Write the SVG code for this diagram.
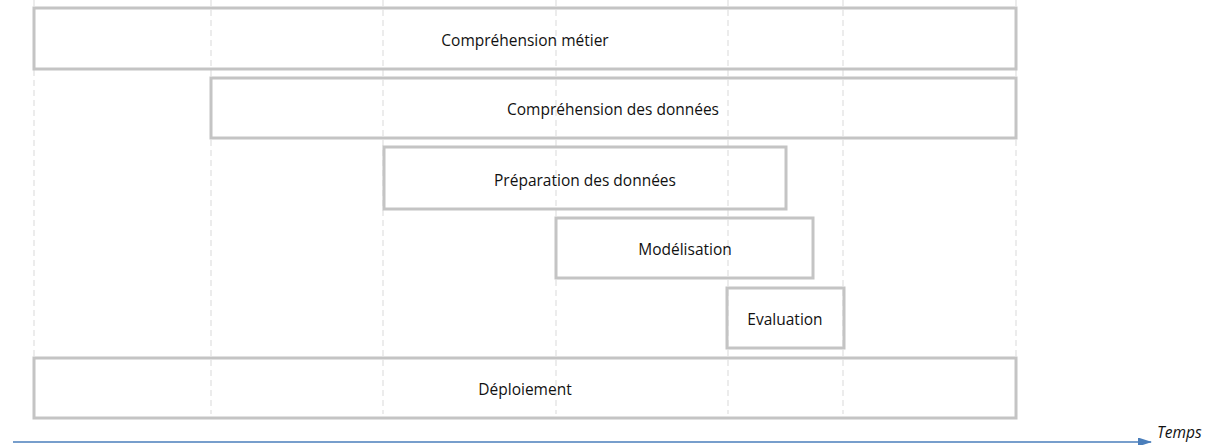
<svg xmlns="http://www.w3.org/2000/svg" width="1209" height="445" viewBox="0 0 1209 445">
<style>
.grid{stroke:#d9d9d9;stroke-width:1;stroke-dasharray:6 4;fill:none}
.box{fill:none;stroke:#c4c4c4;stroke-width:3}
.lbl{font-family:"Open Sans","Liberation Sans",sans-serif;font-size:15.5px;fill:#111;text-anchor:middle;dominant-baseline:central}
</style>
<defs>
<marker id="arr" markerWidth="14" markerHeight="9" refX="13" refY="4.5" orient="auto" markerUnits="userSpaceOnUse">
<path d="M0,0 L14,4.5 L0,9 Z" fill="#4a7ebb"/>
</marker>
</defs>
<g id="grid">
<line class="grid" x1="34" y1="0" x2="34" y2="414"/>
<line class="grid" x1="211" y1="0" x2="211" y2="414"/>
<line class="grid" x1="383" y1="0" x2="383" y2="414"/>
<line class="grid" x1="556" y1="0" x2="556" y2="414"/>
<line class="grid" x1="728" y1="0" x2="728" y2="414"/>
<line class="grid" x1="843" y1="0" x2="843" y2="414"/>
<line class="grid" x1="1016" y1="0" x2="1016" y2="414"/>
</g>
<g id="n1"><rect class="box" x="34" y="8" width="982" height="61"/><text class="lbl" x="525" y="40">Compréhension métier</text></g>
<g id="n2"><rect class="box" x="211" y="78" width="805" height="60"/><text class="lbl" x="613" y="109">Compréhension des données</text></g>
<g id="n3"><rect class="box" x="384" y="147" width="402" height="62"/><text class="lbl" x="585" y="180">Préparation des données</text></g>
<g id="n4"><rect class="box" x="556" y="218" width="257" height="60"/><text class="lbl" x="685" y="249">Modélisation</text></g>
<g id="n5"><rect class="box" x="727" y="288" width="117" height="60"/><text class="lbl" x="785" y="319">Evaluation</text></g>
<g id="n6"><rect class="box" x="34" y="358" width="982" height="60"/><text class="lbl" x="525" y="389">Déploiement</text></g>
<g id="connectors">
<line x1="13" y1="442" x2="1151" y2="442" stroke="#4a7ebb" stroke-width="1.5" marker-end="url(#arr)"/>
</g>
<text x="1157" y="438" font-family="Open Sans, Liberation Sans, sans-serif" font-size="15.5" font-style="italic" fill="#111">Temps</text>
</svg>
